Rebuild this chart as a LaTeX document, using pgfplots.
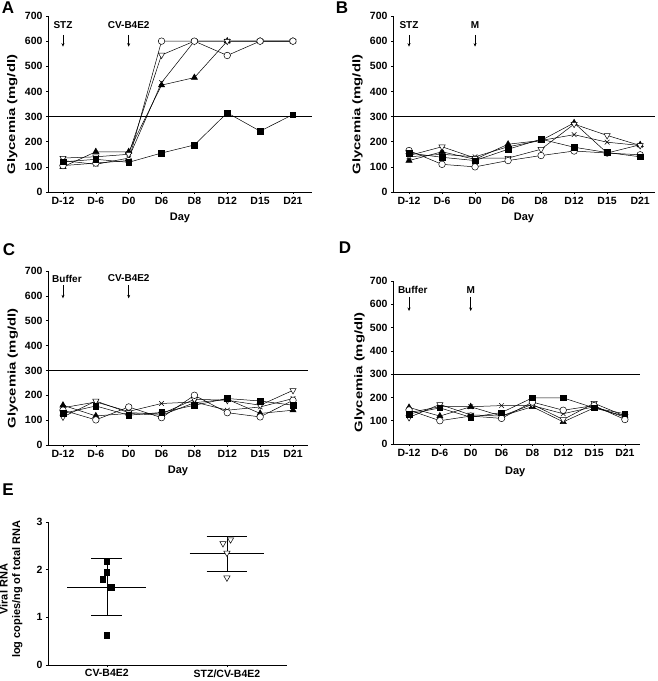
\documentclass[border=0pt]{standalone}
\usepackage{fontspec}
\setmainfont{Liberation Sans}
\usepackage{pgfplots}
\pgfplotsset{compat=1.18}
\usetikzlibrary{arrows.meta}

\pgfplotsset{
  base/.style={
    scale only axis,
    axis x line=bottom, axis y line=left,
    axis line style={-, line width=0.8pt},
    tick align=outside, major tick length=2pt,
    tick style={line width=0.6pt, black},
    ticklabel style={font=\fontsize{10.5}{12}\selectfont\bfseries},
    /pgf/number format/assume math mode=true,
    clip=false,
    every axis plot/.append style={line width=0.5pt, black},
  },
  glyc/.style={
    base,
    ymin=0, ymax=700, ytick={0,100,...,700},
    xtick={0,...,7},
    xticklabels={D-12,D-6,D0,D6,D8,D12,D15,D21},
    xlabel={Day},
    xlabel style={font=\fontsize{11}{12}\selectfont\bfseries, at={(axis description cs:0.5,-0.148)}, anchor=center},
    ylabel={\scalebox{1.35}[1]{Glycemia (mg/dl)}},
    ylabel style={font=\fontsize{11}{13}\selectfont\bfseries, at={(axis description cs:-0.135,0.44)}, anchor=center},
  },
  sq/.style={mark=square*, mark size=2.8pt, mark options={fill=black, solid}},
  ci/.style={mark=*, mark size=3.3pt, mark options={fill=white, solid}},
  dt/.style={mark=triangle*, mark size=3.6pt, mark options={fill=white, rotate=180, solid}},
  cr/.style={mark=x, mark size=3.3pt},
  ut/.style={mark=triangle*, mark size=3.6pt, mark options={fill=black}},
}
\tikzset{arr/.style={-{Stealth[length=3.5pt,width=3pt]}, line width=0.6pt},
  ann/.style={font=\fontsize{10}{11}\selectfont\bfseries}}

\begin{document}
\begin{tikzpicture}[x=1pt,y=1pt]
\useasboundingbox (0,0) rectangle (657,681);
\tikzset{lett/.style={font=\fontsize{17}{17}\selectfont\bfseries}}
\node[lett] at (8,673) {A};
\node[lett] at (342,673) {B};
\node[lett] at (9,431) {C};
\node[lett] at (345,433) {D};
\node[lett] at (8,191) {E};

% ---------- A ----------
\begin{axis}[glyc, at={(48pt,489pt)}, anchor=south west, width=264pt, height=176pt, xmin=-0.456, xmax=7.58]
\addplot[no marks, line width=0.6pt] coordinates {(-0.456,300) (7.58,300)};
\addplot[ut] coordinates {(0,100) (1,160) (2,160) (3,425) (4,455) (5,600) (6,600) (7,600)};
\addplot[cr] coordinates {(0,125) (1,110) (2,135) (3,435) (4,600) (5,600) (6,600) (7,600)};
\addplot[dt] coordinates {(0,135) (1,140) (2,150) (3,545) (4,600) (5,600) (6,600) (7,600)};
\addplot[ci] coordinates {(0,105) (1,115) (2,125) (3,600) (4,600) (5,543) (6,600) (7,600)};
\addplot[sq] coordinates {(0,120) (1,130) (2,118) (3,155) (4,187) (5,315) (6,242) (7,308)};
\node[ann] at (axis cs:0,665) {STZ};
\draw[arr] (axis cs:0,625) -- (axis cs:0,578);
\node[ann] at (axis cs:2,665) {CV-B4E2};
\draw[arr] (axis cs:2,625) -- (axis cs:2,578);
\end{axis}

% ---------- B ----------
\begin{axis}[glyc, at={(393pt,489pt)}, anchor=south west, width=262pt, height=176pt, xmin=-0.485, xmax=7.45]
\addplot[no marks, line width=0.6pt] coordinates {(-0.485,300) (7.45,300)};
\addplot[ut] coordinates {(0,125) (1,160) (2,130) (3,190) (4,205) (5,275) (6,155) (7,188)};
\addplot[cr] coordinates {(0,140) (1,150) (2,140) (3,180) (4,205) (5,228) (6,198) (7,185)};
\addplot[dt] coordinates {(0,145) (1,180) (2,135) (3,135) (4,170) (5,270) (6,225) (7,185)};
\addplot[ci] coordinates {(0,165) (1,110) (2,100) (3,125) (4,145) (5,163) (6,155) (7,148)};
\addplot[sq] coordinates {(0,155) (1,138) (2,125) (3,170) (4,210) (5,178) (6,157) (7,140)};
\node[ann] at (axis cs:0,665) {STZ};
\draw[arr] (axis cs:0,625) -- (axis cs:0,578);
\node[ann] at (axis cs:2,665) {M};
\draw[arr] (axis cs:2,625) -- (axis cs:2,578);
\end{axis}

% ---------- C ----------
\begin{axis}[glyc, at={(48pt,236pt)}, anchor=south west, width=260pt, height=174pt, xmin=-0.456, xmax=7.456]
\addplot[no marks, line width=0.6pt] coordinates {(-0.456,300) (7.456,300)};
\addplot[ut] coordinates {(0,160) (1,117) (2,127) (3,120) (4,170) (5,184) (6,127) (7,140)};
\addplot[cr] coordinates {(0,150) (1,173) (2,135) (3,167) (4,173) (5,140) (6,153) (7,187)};
\addplot[dt] coordinates {(0,113) (1,177) (2,130) (3,125) (4,184) (5,180) (6,160) (7,220)};
\addplot[ci] coordinates {(0,140) (1,101) (2,153) (3,110) (4,200) (5,130) (6,113) (7,180)};
\addplot[sq] coordinates {(0,127) (1,157) (2,120) (3,131) (4,160) (5,187) (6,177) (7,160)};
\node[ann] at (axis cs:0.12,670) {Buffer};
\draw[arr] (axis cs:0,642) -- (axis cs:0,590);
\node[ann] at (axis cs:2,670) {CV-B4E2};
\draw[arr] (axis cs:2,642) -- (axis cs:2,590);
\end{axis}

% ---------- D ----------
\begin{axis}[glyc, at={(393pt,237pt)}, anchor=south west, width=247pt, height=163pt, xmin=-0.52, xmax=7.49,
  xlabel style={at={(axis description cs:0.495,-0.17)}}]
\addplot[no marks, line width=0.6pt] coordinates {(-0.52,300) (7.49,300)};
\addplot[ut] coordinates {(0,157) (1,120) (2,160) (3,120) (4,160) (5,95) (6,155) (7,120)};
\addplot[cr] coordinates {(0,135) (1,160) (2,160) (3,165) (4,165) (5,130) (6,160) (7,115)};
\addplot[dt] coordinates {(0,114) (1,170) (2,125) (3,120) (4,170) (5,105) (6,175) (7,120)};
\addplot[ci] coordinates {(0,146) (1,100) (2,120) (3,110) (4,180) (5,145) (6,165) (7,105)};
\addplot[sq] coordinates {(0,129) (1,155) (2,115) (3,135) (4,198) (5,198) (6,155) (7,130)};
\node[ann] at (axis cs:0.12,661) {Buffer};
\draw[arr] (axis cs:0,632) -- (axis cs:0,571);
\node[ann] at (axis cs:2,661) {M};
\draw[arr] (axis cs:2,632) -- (axis cs:2,571);
\end{axis}

% ---------- E ----------
\begin{axis}[base, at={(48pt,16pt)}, anchor=south west, width=239pt, height=143pt,
  xmin=-0.49, xmax=1.5, ymin=0, ymax=3, ytick={0,1,2,3},
  xtick={0,1}, xticklabels={CV-B4E2,STZ/CV-B4E2},
  xticklabel style={yshift=1pt},
  ylabel={Viral RNA\\log copies/ng of total RNA},
  ylabel style={font=\fontsize{11}{12.5}\selectfont\bfseries, align=center, at={(axis description cs:-0.155,0.53)}, anchor=center}]
\addplot[only marks, sq] coordinates {(0,2.17) (0,1.95) (-0.033,1.80) (0.036,1.63) (0,0.63)};
\addplot[no marks] coordinates {(-0.33,1.636) (0.33,1.636)};
\addplot[no marks] coordinates {(-0.13,2.23) (0.13,2.23)};
\addplot[no marks] coordinates {(-0.13,1.05) (0.13,1.05)};
\addplot[no marks] coordinates {(0,1.05) (0,2.23)};
\addplot[only marks, dt] coordinates {(1.03,2.63) (0.967,2.55) (1,2.35) (1,1.83)};
\addplot[no marks] coordinates {(0.69,2.34) (1.31,2.34)};
\addplot[no marks] coordinates {(0.83,2.70) (1.17,2.70)};
\addplot[no marks] coordinates {(0.83,1.97) (1.17,1.97)};
\addplot[no marks] coordinates {(1,1.97) (1,2.70)};
\end{axis}
\end{tikzpicture}
\end{document}
